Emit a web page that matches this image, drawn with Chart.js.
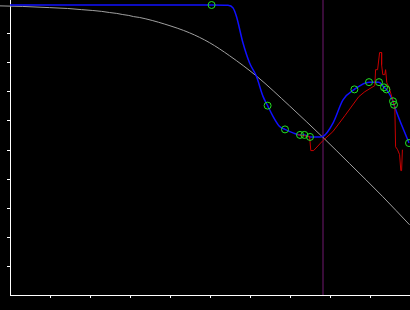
<!DOCTYPE html>
<html lang="en">
<head>
  <meta charset="UTF-8" />
  <title>Curve fit</title>
  <style>
    body { margin: 0; padding: 0; background: #000; }
    #wrap { width: 410px; height: 310px; }
    canvas { display: block; background: #000; }
  </style>
</head>
<body>
  <div id="wrap"><canvas id="fitChart" width="410" height="310"></canvas></div>

  <script src="https://cdn.jsdelivr.net/npm/chart.js"></script>
  <script>
    // reference sigmoid (gray)
    const grayX = [-0.26, 0.32, 0.99, 1.44, 1.79, 2.07, 2.29, 2.49, 2.67, 2.82, 2.97, 3.09, 3.24, 3.87, 4.49, 4.99, 5.49, 6.17, 6.99, 7.82, 8.49, 9.32, 9.99];
    const grayY = [9.97, 9.95, 9.91, 9.88, 9.84, 9.81, 9.78, 9.74, 9.71, 9.67, 9.64, 9.60, 9.57, 9.34, 9.04, 8.70, 8.25, 7.54, 6.52, 5.44, 4.53, 3.39, 2.42];

    // fitted curve (blue)
    const blueX = [0, 5.04, 5.44, 5.575, 5.66, 5.825, 5.99, 6.16, 6.325, 6.44, 6.575, 6.74, 6.875, 7.075, 7.25, 7.36, 7.5, 7.74, 7.825, 8.075, 8.325, 8.61, 8.975, 9.225, 9.35, 9.41, 9.575, 9.6, 9.975];
    const blueY = [10, 10, 9.99, 9.90, 9.61, 8.69, 8.0, 7.54, 6.85, 6.53, 6.16, 5.81, 5.71, 5.59, 5.52, 5.52, 5.45, 5.45, 5.47, 5.93, 6.73, 7.09, 7.34, 7.34, 7.16, 7.09, 6.68, 6.56, 5.24];

    // sample points (green circles)
    const markX = [5.04, 6.44, 6.875, 7.25, 7.36, 7.5, 8.61, 8.975, 9.225, 9.35, 9.41, 9.575, 9.6, 9.975];
    const markY = [10, 6.53, 5.71, 5.52, 5.52, 5.45, 7.09, 7.34, 7.34, 7.16, 7.09, 6.68, 6.56, 5.24];

    // raw signal (red)
    const redX = [7.19, 7.49, 7.52, 7.59, 7.82, 8.07, 8.37, 8.72, 8.87, 9.12, 9.14, 9.19, 9.24, 9.29, 9.29, 9.32, 9.37, 9.39, 9.42, 9.47, 9.62, 9.64, 9.69, 9.74, 9.77, 9.79, 9.81];
    const redY = [5.53, 5.46, 4.98, 4.98, 5.32, 5.63, 6.18, 6.84, 7.01, 7.22, 7.77, 7.77, 8.36, 8.36, 7.94, 7.60, 7.60, 7.77, 7.32, 7.18, 6.49, 5.11, 5.01, 4.84, 4.29, 4.29, 5.01];

    // cursor position
    const cursorX = 7.825;

    const xTicks = [1, 2, 3, 4, 5, 6, 7, 8, 9];
    const yTicks = [1, 2, 3, 4, 5, 6, 7, 8, 9];

    const pts = (xs, ys) => xs.map((x, i) => ({ x: x, y: ys[i] }));

    const axis = (ticks, fitKey, size) => ({
      type: 'linear',
      border: { display: true, color: '#fff', width: 1 },
      grid: { display: true, drawOnChartArea: false, drawTicks: true, tickLength: 3, color: '#fff', lineWidth: 1 },
      ticks: { display: false, stepSize: 1 },
      afterBuildTicks: s => { s.ticks = ticks.map(v => ({ value: v })); },
      afterFit: s => { s[fitKey] = size; }
    });

    const xAxis = axis(xTicks, 'height', 15);
    xAxis.min = 0; xAxis.max = 10;
    const yAxis = axis(yTicks, 'width', 10);
    yAxis.min = 0; yAxis.max = 295 / 29;

    new Chart(document.getElementById('fitChart'), {
      type: 'scatter',
      data: {
        datasets: [
          {
            data: pts(markX, markY),
            showLine: false,
            pointRadius: 3.5,
            pointBorderWidth: 1,
            pointBorderColor: '#22e022',
            pointBackgroundColor: 'rgba(0,0,0,0)'
          },
          {
            data: pts(redX, redY),
            showLine: true,
            borderColor: '#c80000',
            borderWidth: 1,
            pointRadius: 0,
            tension: 0
          },
          {
            data: pts(blueX, blueY),
            showLine: true,
            borderColor: '#1010ff',
            borderWidth: 1.5,
            pointRadius: 0,
            cubicInterpolationMode: 'monotone'
          },
          {
            data: pts(grayX, grayY),
            showLine: true,
            borderColor: '#a0a0a0',
            borderWidth: 1,
            pointRadius: 0,
            cubicInterpolationMode: 'monotone',
            clip: false
          },
          {
            data: [{ x: cursorX, y: 0 }, { x: cursorX, y: 10.2 }],
            showLine: true,
            borderColor: '#701870',
            borderWidth: 1,
            pointRadius: 0
          }
        ]
      },
      options: {
        responsive: false,
        animation: false,
        layout: { padding: 0, autoPadding: false },
        plugins: { legend: { display: false }, tooltip: { enabled: false } },
        scales: { x: xAxis, y: yAxis }
      }
    });
  </script>
</body>
</html>
